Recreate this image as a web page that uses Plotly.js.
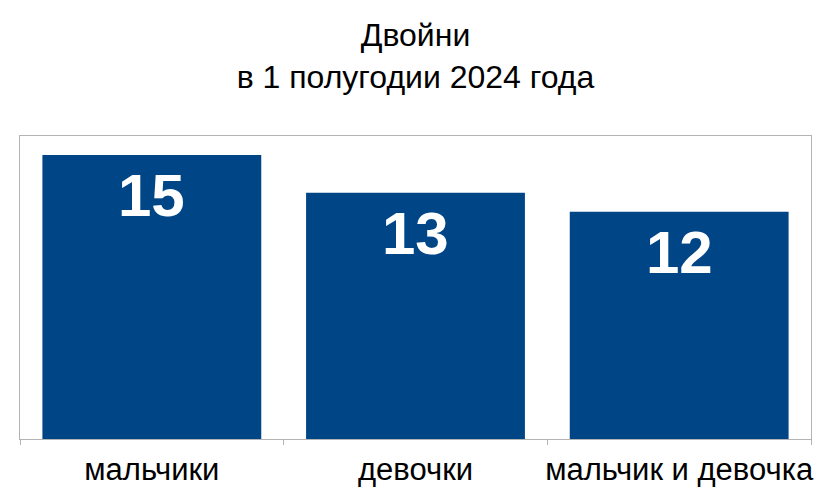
<!DOCTYPE html>
<html>
<head>
<meta charset="utf-8">
<script src="https://cdn.plot.ly/plotly-3.0.1.min.js"></script>
<style>
  html, body { margin: 0; padding: 0; background: #fff; }
  #chart { width: 838px; height: 492px; }
</style>
</head>
<body>
<div id="chart"></div>
<script>
// данные диаграммы
const categories = ["мальчики", "девочки", "мальчик и девочка"];
const counts = [15, 13, 12];
const titleLines = ["Двойни", "в 1 полугодии 2024 года"];

const FONT = "Liberation Sans, Arial, sans-serif";
const BAR_COLOR = "#004586";
const FRAME = "#b3b3b3";

const traces = [{
    type: "bar",
    x: categories,
    y: counts,
    marker: { color: BAR_COLOR, line: { width: 0 } },
    hoverinfo: "x+y"
}];

// подписи значений внутри столбцов (сверху)
const annotations = categories.map((c, i) => ({
    x: c, y: counts[i], xref: "x", yref: "y",
    text: String(counts[i]),
    showarrow: false,
    yanchor: "top",
    yshift: -5,
    font: { family: FONT, size: 60, color: "#ffffff", weight: "bold" }
}));

const layout = {
    width: 838, height: 492,
    margin: { l: 20, r: 27, t: 136, b: 53 },
    paper_bgcolor: "#ffffff", plot_bgcolor: "#ffffff",
    showlegend: false,
    bargap: 0.17,
    font: { family: FONT, color: "#000000" },
    title: {
        text: titleLines.join("<br>"),
        font: { family: FONT, size: 32, color: "#000000" },
        x: 0.5, xref: "paper",
        y: 1 - 46 / 492, yref: "container", yanchor: "top"
    },
    xaxis: {
        type: "category",
        showline: true, linecolor: FRAME, linewidth: 1, mirror: true,
        ticks: "outside", tickson: "boundaries", ticklen: 5, tickcolor: FRAME,
        tickangle: 0, ticklabelstandoff: 3,
        tickfont: { family: FONT, size: 31, color: "#000000" },
        showgrid: false, zeroline: false, fixedrange: true
    },
    yaxis: {
        range: [0, 16],
        showline: true, linecolor: FRAME, linewidth: 1, mirror: true,
        showticklabels: false, ticks: "",
        showgrid: false, zeroline: false, fixedrange: true
    },
    annotations: annotations
};

Plotly.newPlot("chart", traces, layout, { displayModeBar: false, staticPlot: true });
</script>
</body>
</html>
